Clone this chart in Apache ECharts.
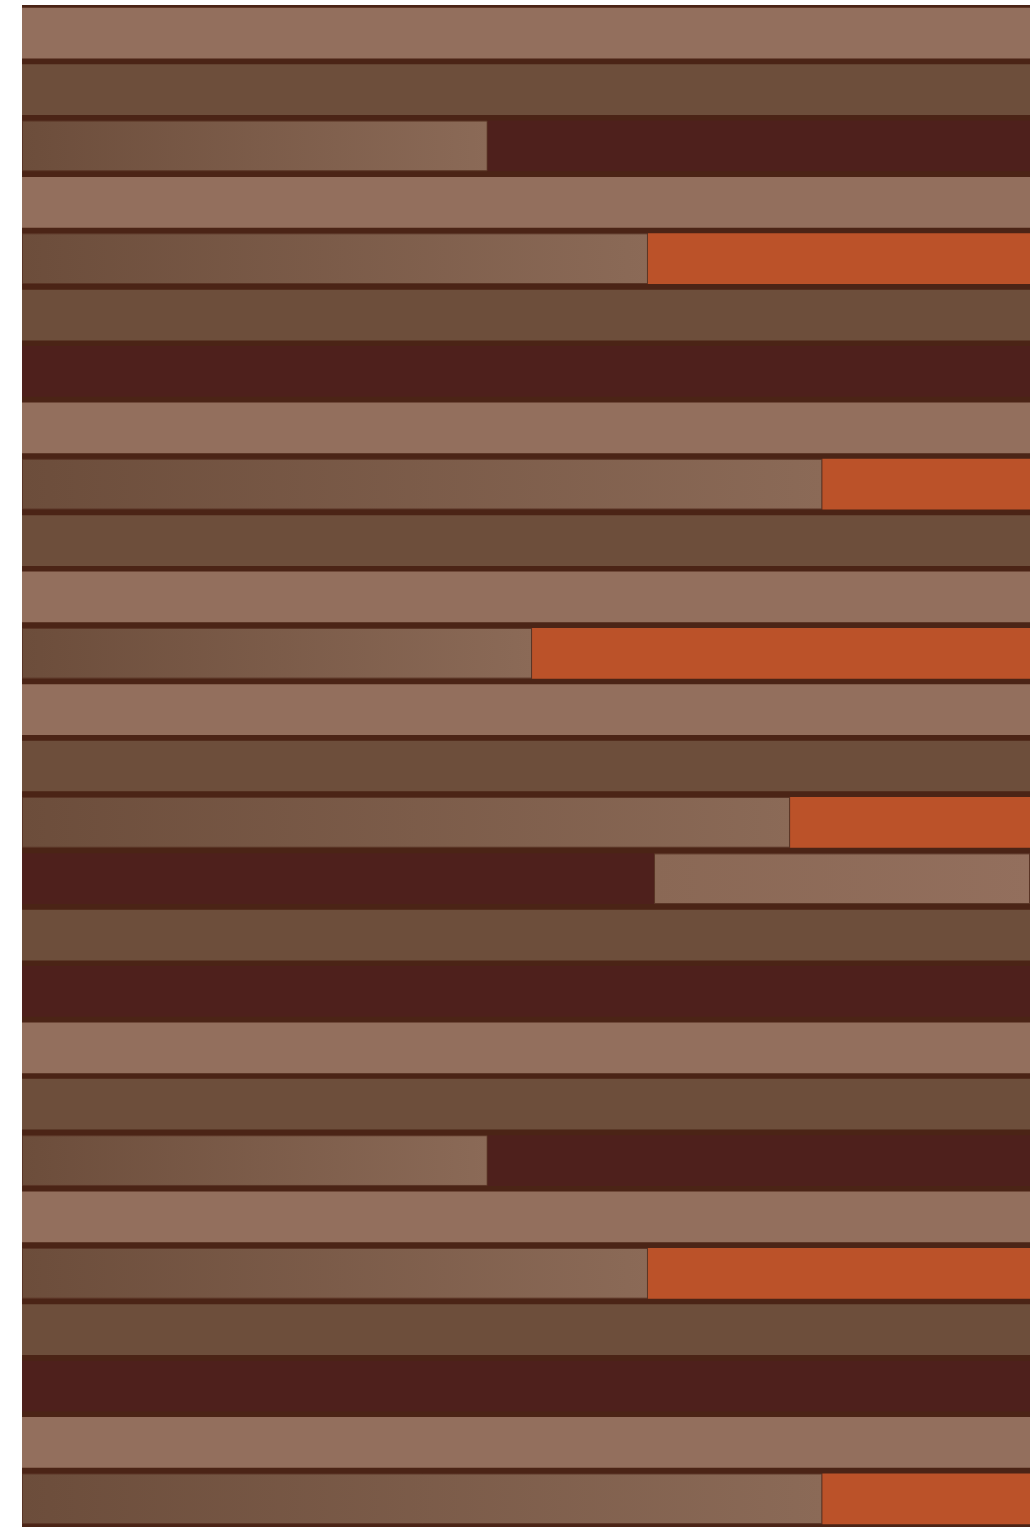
<!DOCTYPE html>
<html><head><meta charset="utf-8">
<style>html,body{margin:0;padding:0;background:#fff}#c{width:1030px;height:1529px}</style>
<script src="https://cdn.jsdelivr.net/npm/echarts@6/dist/echarts.min.js"></script>
</head><body><div id="c"></div>
<script>
// 27 horizontal stripes, top to bottom; each stripe = left segment + right segment (percent of width)
var rows = ['1','2','3','4','5','6','7','8','9','10','11','12','13','14','15','16','17','18','19','20','21','22','23','24','25','26','27'];
var leftValues  = [100,100,46.2,100,62.1,100,100,100,79.4,100,100,50.6,100,100,76.2,62.7,100,100,100,100,46.2,100,62.1,100,100,100,79.4];
var rightValues = [0,0,53.8,0,37.9,0,0,0,20.6,0,0,49.4,0,0,23.8,37.3,0,0,0,0,53.8,0,37.9,0,0,0,20.6];
var leftTypes  = ['light','medium','texture','light','texture','medium','maroon','light','texture','medium','light','texture','light','medium','texture','maroon','medium','maroon','light','medium','texture','light','texture','medium','maroon','light','texture'];
var rightTypes = ['none','none','maroon','none','orange','none','none','none','orange','none','none','orange','none','none','orange','textureLight','none','none','none','none','maroon','none','orange','none','none','none','orange'];

var palette = {
  light: '#936f5d',
  medium: '#6d4e3b',
  maroon: '#4e201c',
  orange: '#bb5229',
  texture: {type:'linear',x:0,y:0,x2:1,y2:0,colorStops:[{offset:0,color:'#6c4d3b'},{offset:1,color:'#8b6a57'}]},
  textureLight: {type:'linear',x:0,y:0,x2:1,y2:0,colorStops:[{offset:0,color:'#8a6855'},{offset:1,color:'#936f5d'}]},
  none: 'rgba(0,0,0,0)'
};
function items(vals, types){
  return vals.map(function(v,i){
    var t = types[i];
    var st = {color: palette[t]};
    if (t === 'texture' || t === 'textureLight') { st.borderColor = '#5a3526'; st.borderWidth = 1; }
    return {value: v, itemStyle: st};
  });
}
var chart = echarts.init(document.getElementById('c'));
chart.setOption({
  backgroundColor: '#ffffff',
  animation: false,
  grid: {left: 22, top: 5, right: 0, bottom: 2, show: true, backgroundColor: '#4b2416', borderWidth: 0},
  xAxis: {type: 'value', min: 0, max: 100, show: false},
  yAxis: {type: 'category', data: rows, inverse: true, show: false},
  series: [
    {type: 'bar', stack: 's', data: items(leftValues, leftTypes), barCategoryGap: '10%'},
    {type: 'bar', stack: 's', data: items(rightValues, rightTypes), barCategoryGap: '10%'}
  ]
});
</script></body></html>
